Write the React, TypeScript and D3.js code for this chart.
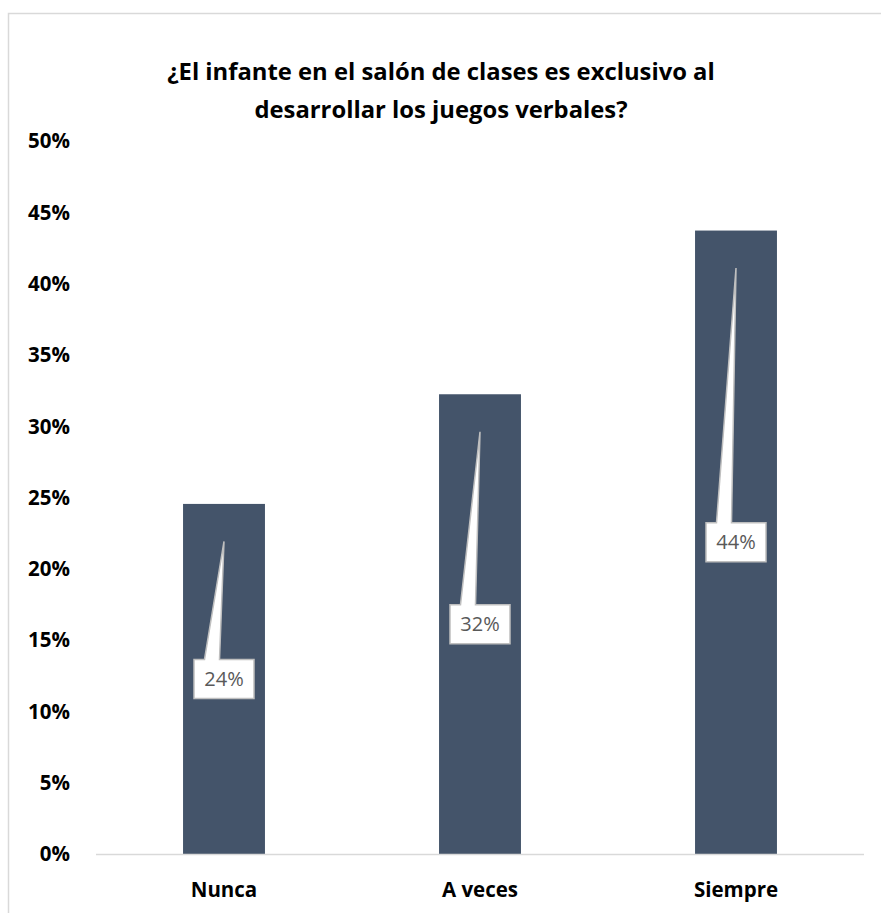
import React from "react";
import * as d3 from "d3";

const categories = ["Nunca", "A veces", "Siempre"];
const values = [0.2455, 0.3224, 0.4372];
const valueLabels = ["24%", "32%", "44%"];
const yTicks = [0, 0.05, 0.1, 0.15, 0.2, 0.25, 0.3, 0.35, 0.4, 0.45, 0.5];
const titleLines = [
  "¿El infante en el salón de clases es exclusivo al",
  "desarrollar los juegos verbales?",
];

const W = 881;
const H = 913;
const FONT = "'Open Sans', Lato, sans-serif";

export default function App() {
  const x = d3.scaleBand<string>().domain(categories).range([96, 864]).paddingInner(0.68).paddingOuter(0.34);
  const y = d3.scaleLinear().domain([0, 0.5]).range([854, 141]);
  const fmt = d3.format(".0%");
  const boxW = 60;
  const boxH = 39;
  const tipOffset = 37.5;

  return (
    <svg width={W} height={H} style={{ position: "absolute", left: 0, top: 0, background: "#fff" }}>
      <rect x={8.5} y={13.5} width={900} height={950} fill="#fff" stroke="#d9d9d9" strokeWidth={1.5} />
      {titleLines.map((t, i) => (
        <text key={i} x={441} y={80 + i * 37.5} textAnchor="middle" fontFamily={FONT} fontWeight={700} fontSize={23.8} fill="#000">
          {t}
        </text>
      ))}
      {yTicks.map((t) => (
        <text key={t} x={70} y={y(t)} dy="0.36em" textAnchor="end" fontFamily={FONT} fontWeight={700} fontSize={20.5} fill="#000">
          {fmt(t)}
        </text>
      ))}
      {categories.map((c, i) => {
        const x0 = x(c)!;
        const bw = x.bandwidth();
        const cx = x0 + bw / 2;
        const top = y(values[i]);
        const cy = y(values[i] / 2);
        const bl = cx - boxW / 2;
        const bt = cy - boxH / 2;
        const tipY = top + tipOffset;
        const path = [
          `M${bl},${bt}`,
          `L${bl + 10.5},${bt}`,
          `L${cx},${tipY}`,
          `L${bl + 25.5},${bt}`,
          `L${bl + boxW},${bt}`,
          `L${bl + boxW},${bt + boxH}`,
          `L${bl},${bt + boxH}`,
          "Z",
        ].join(" ");
        return (
          <g key={c}>
            <rect x={x0} y={top} width={bw} height={y(0) - top} fill="#44546a" />
            <path d={path} fill="#fff" stroke="#bfbfbf" strokeWidth={1.5} strokeLinejoin="miter" />
            <text x={cx} y={cy} dy="0.36em" textAnchor="middle" fontFamily={FONT} fontSize={20} fill="#595959">
              {valueLabels[i]}
            </text>
            <text x={cx} y={897} textAnchor="middle" fontFamily={FONT} fontWeight={700} fontSize={20.5} fill="#000">
              {c}
            </text>
          </g>
        );
      })}
      <line x1={96} x2={864} y1={854.5} y2={854.5} stroke="#d9d9d9" strokeWidth={1.5} />
    </svg>
  );
}
